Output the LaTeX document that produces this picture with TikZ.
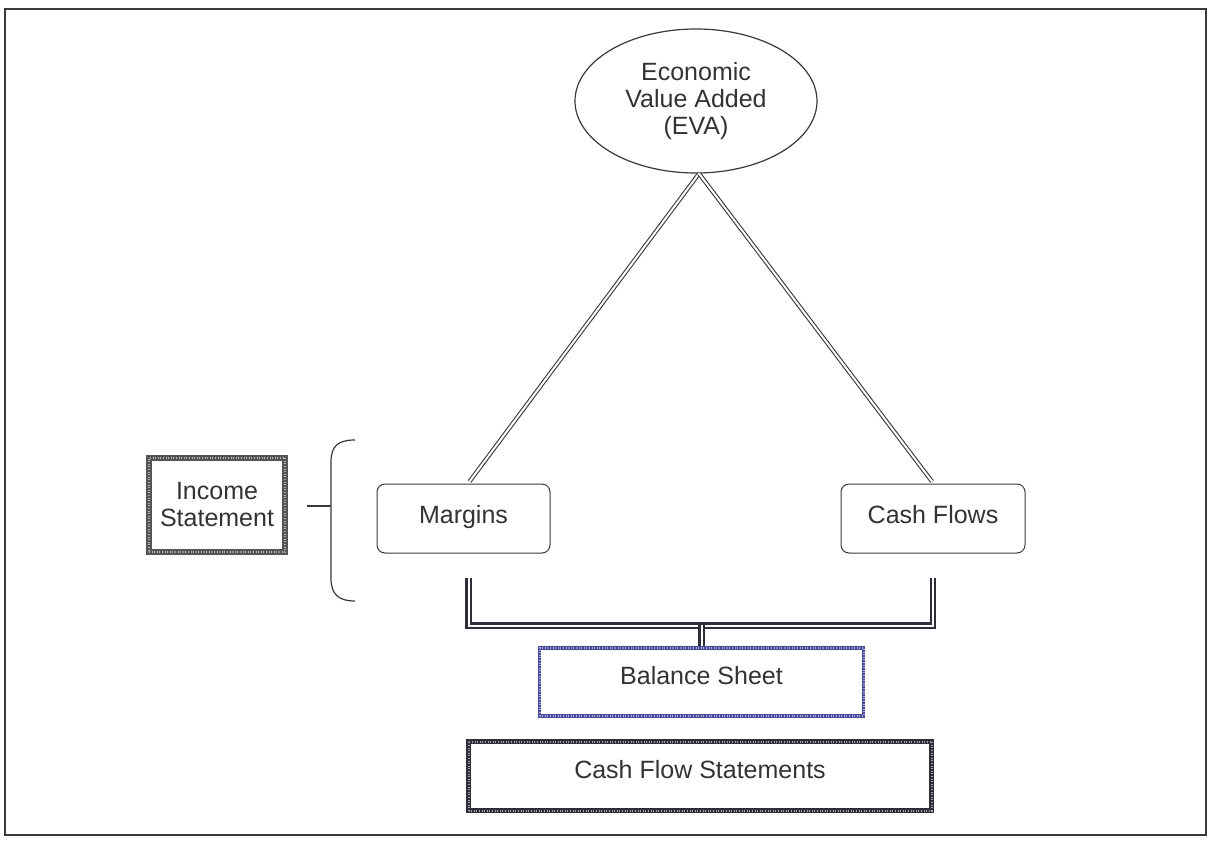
\documentclass[tikz,border=0pt]{standalone}
\usepackage{fontspec}
\setmainfont{Liberation Sans}
\usetikzlibrary{shapes.geometric,calc}
\definecolor{ink}{HTML}{333333}
\definecolor{frameline}{HTML}{3A3A3A}
\definecolor{hatchgray}{HTML}{555555}
\definecolor{hatchblue}{HTML}{4A4A9A}
\definecolor{hatchdark}{HTML}{2E2E3A}
\begin{document}
\begin{tikzpicture}[x=1pt,y=-1pt,
  every node/.style={text=ink, font=\fontsize{25}{27}\selectfont, align=center, inner sep=0pt},
  oneline/.style={text height=0.72em, text depth=0.2em},
  plainbox/.style={draw=frameline, line width=1pt, rounded corners=8pt, fill=white,
     text height=1.2em, text depth=0.2em},
  hatched/.style={draw=#1, line width=5pt, fill=white,
     postaction={draw=#1!45!white, line width=2pt, dash pattern=on 1pt off 1.6pt}},
  dbl/.style={draw=frameline, line width=1.1pt, double=white, double distance=2pt},
  dblthick/.style={draw=hatchdark, line width=2.2pt, double=white, double distance=2pt},
  brace/.style={draw=frameline, line width=1.2pt}]
\useasboundingbox (0,0) rectangle (1209,840);
\fill[white] (0,0) rectangle (1209,840);
% outer frame
\draw[frameline, line width=2pt] (5,9) rectangle (1206,835);

% nodes
\node[ellipse, draw=frameline, line width=1.2pt, minimum width=242pt, minimum height=144pt]
  (eva) at (696,101) {Economic\\Value Added\\(EVA)};
\node[plainbox, minimum width=173pt, minimum height=69pt] (marg) at (463.5,518.5) {Margins};
\node[plainbox, minimum width=184pt, minimum height=69pt] (cf) at (933,518.5) {Cash Flows};
\node[hatched=hatchgray, line width=6pt, minimum width=136pt, minimum height=94pt] (inc) at (217,505) {Income\\Statement};
\node[hatched=hatchblue, line width=3.5pt, oneline, minimum width=324pt, minimum height=68pt] (bal) at (701.5,682) {Balance Sheet};
\node[hatched=hatchdark, oneline, minimum width=463pt, minimum height=69pt] (cfs) at (700,776) {Cash Flow Statements};

% links from EVA down to the two drivers
\draw[dbl] ($(eva.south)+(3,0)$) -- ($(marg.north)+(6,-2)$);
\draw[dbl] ($(eva.south)+(3,0)$) -- ($(cf.north)+(-1,-2)$);

% bracket joining the drivers to the balance sheet
\coordinate (bl) at ($(marg.south)+(5,24)$);
\coordinate (br) at ($(cf.south)+(0,24)$);
\draw[dblthick] (bl) -- ++(0,48) -| (br);
\draw[dblthick] (bal.north) -- ($(bal.north)+(0,-21)$);

% brace grouping the income statement items
\coordinate (bt) at (355,440);
\coordinate (bb) at (355,601);
\draw[brace] (bt) .. controls (338,440) and (331,446) .. (331,462)
  -- (331,578) .. controls (331,594) and (338,601) .. (bb);
\coordinate (tick) at (307,506);
\draw[brace] (tick) -- (331,506);
\end{tikzpicture}
\end{document}
